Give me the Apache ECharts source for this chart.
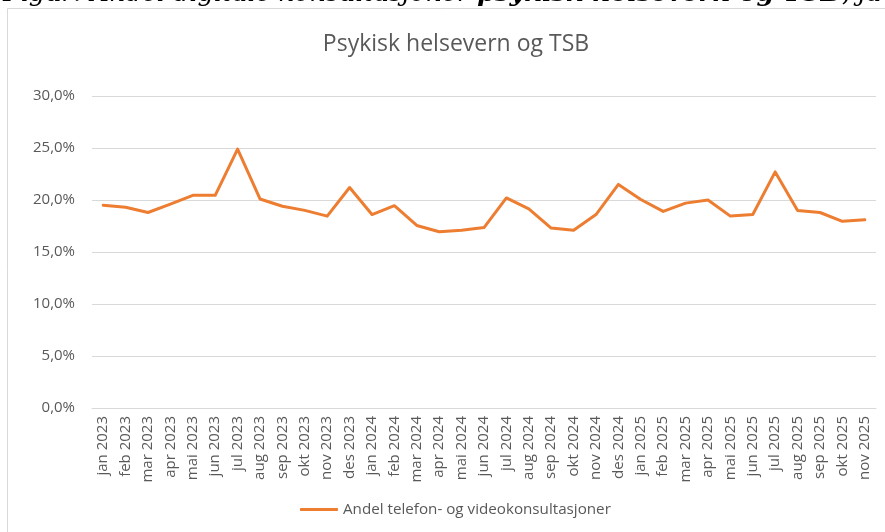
<!DOCTYPE html>
<html>
<head>
<meta charset="utf-8">
<script src="https://cdn.jsdelivr.net/npm/echarts@6/dist/echarts.min.js"></script>
<style>
html,body{margin:0;padding:0;background:#fff;}
#chart{width:885px;height:532px;}
</style>
</head>
<body>
<div id="chart"></div>
<script>
const categories = ["jan 2023","feb 2023","mar 2023","apr 2023","mai 2023","jun 2023","jul 2023","aug 2023","sep 2023","okt 2023","nov 2023","des 2023",
  "jan 2024","feb 2024","mar 2024","apr 2024","mai 2024","jun 2024","jul 2024","aug 2024","sep 2024","okt 2024","nov 2024","des 2024",
  "jan 2025","feb 2025","mar 2025","apr 2025","mai 2025","jun 2025","jul 2025","aug 2025","sep 2025","okt 2025","nov 2025"];
const andelValues = [19.5,19.3,18.8,19.6,20.45,20.45,24.9,20.1,19.4,19.0,18.45,21.2,
  18.6,19.45,17.55,16.95,17.1,17.35,20.2,19.15,17.3,17.1,18.6,21.5,
  20.05,18.9,19.7,20.0,18.45,18.6,22.7,19.0,18.8,17.95,18.1];
const yTicks = [0,5,10,15,20,25,30];
const chartTitle = "Psykisk helsevern og TSB";
const seriesName = "Andel telefon- og videokonsultasjoner";
const captionText = "Figur: Andel digitale konsultasjoner ";
const captionBold = "psykisk helsevern og TSB";
const captionTail = ", ja";

const font = "'Open Sans', sans-serif";
const serif = "'DejaVu Serif', serif";
const chart = echarts.init(document.getElementById('chart'), null, {renderer:'canvas'});
chart.setOption({
  animation:false,
  backgroundColor:'#fff',
  title:{text:chartTitle,left:451,top:28,textAlign:'center',
    textStyle:{fontFamily:font,fontSize:23,fontWeight:'normal',color:'#595959'}},
  graphic:[
    {type:'rect',shape:{x:7.5,y:8.5,width:890,height:540},style:{fill:'none',stroke:'#d9d9d9',lineWidth:1},z:-1},
    {type:'text',left:3,top:-19,style:{
      rich:{a:{fontFamily:serif,fontStyle:'italic',fontSize:25.5,fill:'#000'},
            b:{fontFamily:serif,fontStyle:'italic',fontWeight:'bold',fontSize:25.5,fill:'#000'}},
      text:'{a|'+captionText+'}{b|'+captionBold+'}{a|'+captionTail+'}'}}
  ],
  legend:{bottom:10,left:295,itemWidth:38,itemHeight:3,itemGap:4,
    textStyle:{fontFamily:font,fontSize:15.2,color:'#595959'},
    data:[{name:seriesName,icon:'roundRect'}]},
  grid:{left:92,right:9,top:96,bottom:124,containLabel:false},
  xAxis:{type:'category',data:categories,boundaryGap:true,
    axisLine:{lineStyle:{color:'#d9d9d9',width:1}},
    axisTick:{show:false},
    axisLabel:{rotate:90,interval:0,fontFamily:font,fontSize:15,color:'#595959',margin:8}},
  yAxis:{type:'value',min:0,max:30,interval:5,
    axisLine:{show:false},axisTick:{show:false},
    splitLine:{lineStyle:{color:'#d9d9d9',width:1}},
    axisLabel:{fontFamily:font,fontSize:15,color:'#595959',margin:17,
      formatter:v=>v.toFixed(1).replace('.',',')+'%'}},
  series:[{name:seriesName,type:'line',data:andelValues,showSymbol:false,symbol:'none',
    lineStyle:{color:'#ED7D31',width:3,join:'round',cap:'round'},itemStyle:{color:'#ED7D31'}}]
});
</script>
</body>
</html>
